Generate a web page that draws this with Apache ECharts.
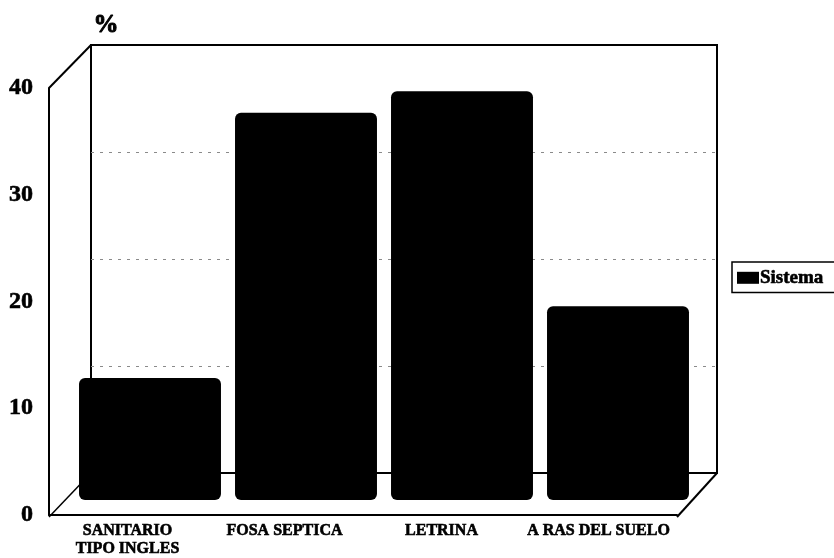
<!DOCTYPE html>
<html>
<head>
<meta charset="utf-8">
<script src="https://cdn.jsdelivr.net/npm/echarts@6/dist/echarts.min.js"></script>
<style>
  html, body { margin: 0; padding: 0; background: #ffffff; }
  #chart { width: 834px; height: 558px; }
</style>
</head>
<body>
<div id="chart"></div>
<script>
// data
const categories = ['SANITARIO\nTIPO INGLES', 'FOSA SEPTICA', 'LETRINA', 'A RAS DEL SUELO']
const sistemaValues = [11.4, 36.2, 38.2, 18.1]
const yTicks = [0, 10, 20, 30, 40]
const seriesName = 'Sistema'

const FONT = '"Liberation Serif", "DejaVu Serif", serif'
const INK = '#000000'

// pseudo 3D box: front plane (axis) and back wall
const FRONT = { left: 49, top: 88, right: 677, bottom: 517 }
const BACK = { left: 91, top: 45, right: 717, bottom: 473 }
// bars sit about halfway deep in the box
const BARS = { left: 72, top: 72, right: 696, bottom: 500 }

const yMin = yTicks[0]
const yMax = yTicks[yTicks.length - 1]
const yStep = yTicks[1] - yTicks[0]

// the scan makes every letter look heavy, a thin outline gets close to it
const heavyText = { textBorderColor: INK, textBorderWidth: 0.6 }

function gridRect(r) {
  return { left: r.left, top: r.top, width: r.right - r.left, height: r.bottom - r.top }
}

const chart = echarts.init(document.getElementById('chart'))

chart.setOption({
  animation: false,
  backgroundColor: '#ffffff',
  grid: [
    // 0: back wall with dotted gridlines
    Object.assign(gridRect(BACK), { show: true, borderColor: INK, borderWidth: 2, backgroundColor: 'transparent' }),
    // 1: front axis (labels)
    gridRect(FRONT),
    // 2: bars
    gridRect(BARS)
  ],
  xAxis: [
    { gridIndex: 0, type: 'category', data: categories, show: false },
    {
      gridIndex: 1,
      type: 'category',
      data: categories,
      axisTick: { show: false },
      axisLine: { lineStyle: { color: INK, width: 2 } },
      axisLabel: Object.assign({
        color: INK,
        fontFamily: FONT,
        fontWeight: 'bold',
        fontSize: 16,
        lineHeight: 18,
        margin: 7,
        interval: 0
      }, heavyText)
    },
    { gridIndex: 2, type: 'category', data: categories, show: false }
  ],
  yAxis: [
    {
      gridIndex: 0,
      type: 'value',
      min: yMin,
      max: yMax,
      interval: yStep,
      axisLine: { show: false },
      axisTick: { show: false },
      axisLabel: { show: false },
      splitLine: {
        showMinLine: false,
        showMaxLine: false,
        lineStyle: { color: '#8a8a8a', width: 1, type: [3, 6] }
      }
    },
    {
      gridIndex: 1,
      type: 'value',
      min: yMin,
      max: yMax,
      interval: yStep,
      axisLine: { show: true, lineStyle: { color: INK, width: 2 } },
      axisTick: { show: false },
      splitLine: { show: false },
      axisLabel: Object.assign({
        color: INK,
        fontFamily: FONT,
        fontWeight: 'bold',
        fontSize: 24,
        margin: 16
      }, heavyText)
    },
    { gridIndex: 2, type: 'value', min: yMin, max: yMax, show: false, splitLine: { show: false } }
  ],
  legend: {
    left: 732,
    top: 262,
    orient: 'vertical',
    icon: 'rect',
    itemWidth: 22,
    itemHeight: 12,
    itemGap: 0,
    padding: [6, 40, 5, 5],
    borderColor: INK,
    borderWidth: 1.5,
    borderRadius: 0,
    textStyle: Object.assign({ color: INK, fontFamily: FONT, fontWeight: 'bold', fontSize: 19, padding: [0, 0, 0, -4] }, heavyText),
    data: [seriesName]
  },
  graphic: [
    {
      type: 'text',
      left: 93,
      top: 13,
      style: { text: '%', fill: INK, font: 'bold 25px ' + FONT, stroke: INK, lineWidth: 1 }
    },
    // box edges that join front plane to back wall
    {
      type: 'polyline', z: 1, silent: true,
      shape: { points: [[FRONT.left, FRONT.top], [BACK.left, BACK.top]] },
      style: { stroke: INK, lineWidth: 2, fill: null }
    },
    {
      type: 'polyline', z: 1, silent: true,
      shape: { points: [[FRONT.left, FRONT.bottom], [BACK.left, BACK.bottom]] },
      style: { stroke: INK, lineWidth: 1.5, fill: null }
    },
    {
      type: 'polyline', z: 1, silent: true,
      shape: { points: [[FRONT.right, FRONT.bottom], [BACK.right, BACK.bottom]] },
      style: { stroke: INK, lineWidth: 2, fill: null }
    }
  ],
  series: [
    {
      name: seriesName,
      type: 'bar',
      xAxisIndex: 2,
      yAxisIndex: 2,
      z: 5,
      data: sistemaValues,
      barCategoryGap: '9%',
      itemStyle: { color: INK, borderRadius: 6 }
    }
  ]
})
</script>
</body>
</html>
